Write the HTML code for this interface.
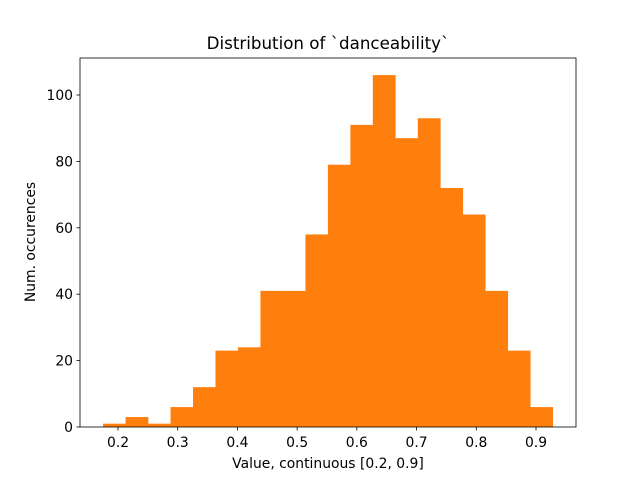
<!DOCTYPE html>
<html><head><meta charset="utf-8"><style>
body{margin:0;background:#fff;font-family:"Liberation Sans","DejaVu Sans",sans-serif}
svg text{font-family:"DejaVu Sans","Liberation Sans",sans-serif}
</style></head><body>
<svg id="chart" width="640" height="480" xmlns="http://www.w3.org/2000/svg">
<rect width="640" height="480" fill="#fff"/>
<g id="bars"></g>
<rect x="80" y="58" width="496" height="369" fill="none" stroke="#000" stroke-width="0.8"/>
<g id="xt"></g>
<g id="yt"></g>
<text x="328" y="49" font-size="16.7" text-anchor="middle">Distribution of `danceability`</text>
<text x="328" y="468" font-size="13.9" text-anchor="middle">Value, continuous [0.2, 0.9]</text>
<text transform="translate(35,242) rotate(-90)" font-size="13.9" text-anchor="middle">Num. occurences</text>
</svg>
<script>
const counts=[1,3,1,6,12,23,24,41,41,58,79,91,106,87,93,72,64,41,23,6];
const binStart=0.175;
const binEnd=0.928;
const xTicks=[0.2,0.3,0.4,0.5,0.6,0.7,0.8,0.9];
const yTicks=[0,20,40,60,80,100];
const NS="http://www.w3.org/2000/svg";
const X=v=>118+(v-0.2)*597.14;
const Y=v=>427-v*3.32;
const bars=document.getElementById('bars');
const w=(binEnd-binStart)/counts.length;
counts.forEach((c,i)=>{
 const r=document.createElementNS(NS,'rect');
 const x0=X(binStart+i*w),x1=X(binStart+(i+1)*w);
 r.setAttribute('x',x0);r.setAttribute('width',x1-x0+0.3);
 r.setAttribute('y',Y(c));r.setAttribute('height',Y(0)-Y(c));
 r.setAttribute('fill','#ff7f0e');
 
 
 bars.appendChild(r);
});
const xt=document.getElementById('xt');
xTicks.forEach(t=>{
 const x=X(t);
 const l=document.createElementNS(NS,'line');
 l.setAttribute('x1',x);l.setAttribute('x2',x);l.setAttribute('y1',427);l.setAttribute('y2',430.5);l.setAttribute('stroke','#000');l.setAttribute('stroke-width','0.8');
 
 
 xt.appendChild(l);
 const s=document.createElementNS(NS,'text');
 s.setAttribute('x',x);s.setAttribute('y',447);s.setAttribute('font-size','13.9');s.setAttribute('text-anchor','middle');
 s.textContent=t.toFixed(1);
 
 
 xt.appendChild(s);
});
const yt=document.getElementById('yt');
yTicks.forEach(t=>{
 const y=Y(t);
 const l=document.createElementNS(NS,'line');
 l.setAttribute('x1',76.5);l.setAttribute('x2',80);l.setAttribute('y1',y);l.setAttribute('y2',y);l.setAttribute('stroke','#000');l.setAttribute('stroke-width','0.8');
 
 
 yt.appendChild(l);
 const s=document.createElementNS(NS,'text');
 s.setAttribute('x',73);s.setAttribute('y',y+5);s.setAttribute('font-size','13.9');s.setAttribute('text-anchor','end');
 s.textContent=t;
 
 
 yt.appendChild(s);
});
</script>
</body></html>
